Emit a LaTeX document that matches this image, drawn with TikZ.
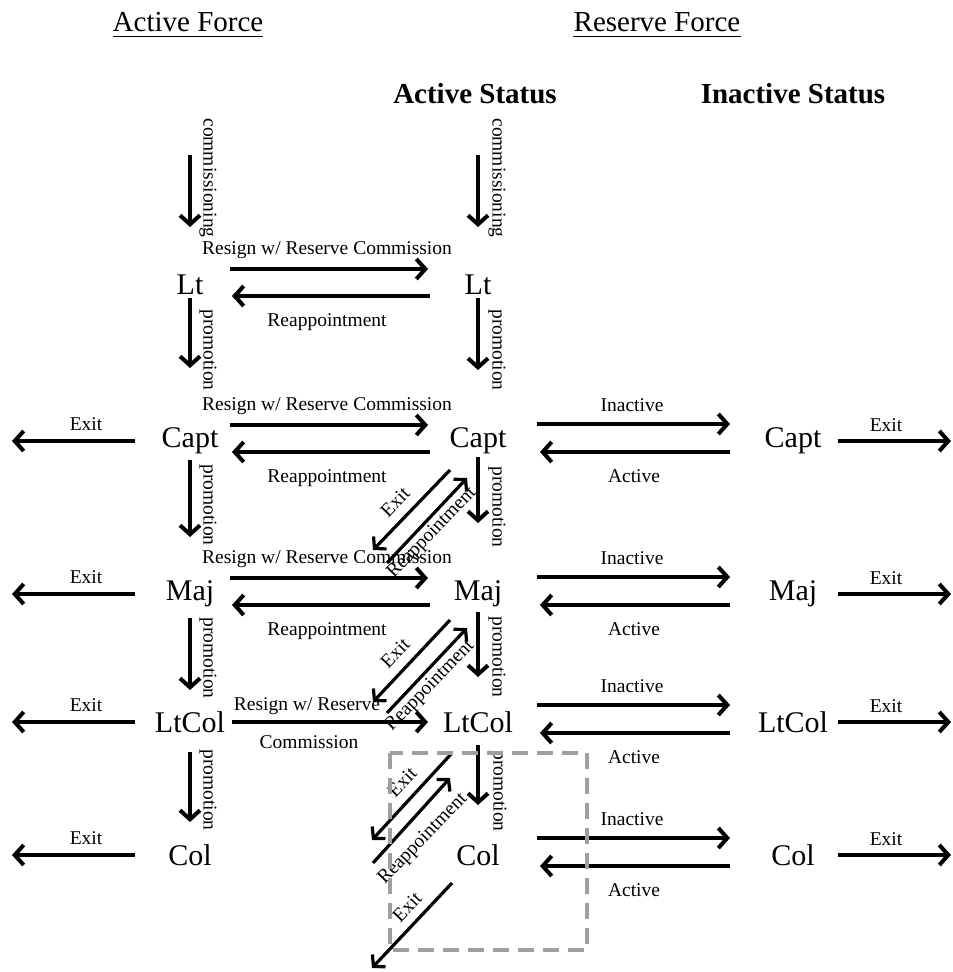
\documentclass[tikz,border=0pt]{standalone}
\usepackage{fontspec}
\setmainfont{Liberation Serif}
\usetikzlibrary{arrows.meta,calc}

\tikzset{
  arr/.style={line width=4pt,-{Straight Barb[length=9pt,width=20pt]}},
  diag/.style={line width=3.2pt,-{Straight Barb[length=8pt,width=18pt]}},
  rank/.style={font=\fontsize{30}{34}\selectfont},
  lbl/.style={font=\fontsize{19.5}{22}\selectfont,inner sep=0pt},
  title/.style={font=\fontsize{29}{33}\selectfont,inner sep=0pt},
  boxdash/.style={draw=gray!75,line width=4pt,dash pattern=on 16pt off 9pt}
}

\begin{document}
\begin{tikzpicture}[x=1pt,y=-1pt]
  \useasboundingbox (0,0) rectangle (953,972);
  % headings
  \node[title] (actforce) at (188,22) {Active Force};
  \node[title] (resforce) at (657,22) {Reserve Force};
  \draw[line width=1.4pt] ([yshift=-5pt]actforce.base west) -- ([yshift=-5pt]actforce.base east);
  \draw[line width=1.4pt] ([yshift=-5pt]resforce.base west) -- ([yshift=-5pt]resforce.base east);
  \node[title,font=\fontsize{29}{33}\selectfont\bfseries] (actstat) at (475,94) {Active Status};
  \node[title,font=\fontsize{29}{33}\selectfont\bfseries] (inactstat) at (793,94) {Inactive Status};

  % ranks
  \node[rank] (a-lt) at (190,285) {Lt};
  \node[rank] (a-capt) at (190,441) {Capt};
  \node[rank] (a-maj) at (190,594) {Maj};
  \node[rank] (a-ltcol) at (190,722) {LtCol};
  \node[rank] (a-col) at (190,855) {Col};
  \node[rank] (r-lt) at (478,285) {Lt};
  \node[rank] (r-capt) at (478,441) {Capt};
  \node[rank] (r-maj) at (478,594) {Maj};
  \node[rank] (r-ltcol) at (478,722) {LtCol};
  \node[rank] (r-col) at (478,855) {Col};
  \node[rank] (i-capt) at (793,441) {Capt};
  \node[rank] (i-maj) at (793,594) {Maj};
  \node[rank] (i-ltcol) at (793,722) {LtCol};
  \node[rank] (i-col) at (793,855) {Col};

  % commissioning
  \coordinate (a-top) at (190,155);
  \coordinate (r-top) at (478,155);
  \draw[arr] (a-top) -- ([shift={(0,-58)}]a-lt.center);
  \draw[arr] (r-top) -- ([shift={(0,-58)}]r-lt.center);
  \node[lbl,rotate=-90] (a-comm) at (208,178) {commissioning};
  \node[lbl,rotate=-90] (r-comm) at (497,178) {commissioning};

  % promotion, active force
  \draw[arr] ([shift={(0,13)}]a-lt.center) -- ([shift={(0,-73)}]a-capt.center);
  \draw[arr] ([shift={(0,19)}]a-capt.center) -- ([shift={(0,-57)}]a-maj.center);
  \draw[arr] ([shift={(0,24)}]a-maj.center) -- ([shift={(0,-32)}]a-ltcol.center);
  \draw[arr] ([shift={(0,30)}]a-ltcol.center) -- ([shift={(0,-33)}]a-col.center);
  \node[lbl,rotate=-90] (a-prom1) at (208,350) {promotion};
  \node[lbl,rotate=-90] (a-prom2) at (208,505) {promotion};
  \node[lbl,rotate=-90] (a-prom3) at (208,658) {promotion};
  \node[lbl,rotate=-90] (a-prom4) at (208,790) {promotion};

  % promotion, reserve
  \draw[arr] ([shift={(0,13)}]r-lt.center) -- ([shift={(0,-71)}]r-capt.center);
  \draw[arr] ([shift={(0,16)}]r-capt.center) -- ([shift={(0,-71)}]r-maj.center);
  \draw[arr] ([shift={(0,18)}]r-maj.center) -- ([shift={(0,-45)}]r-ltcol.center);
  \draw[arr] ([shift={(0,23)}]r-ltcol.center) -- ([shift={(0,-50)}]r-col.center);
  \node[lbl,rotate=-90] (r-prom1) at (497,350) {promotion};
  \node[lbl,rotate=-90] (r-prom2) at (497,507) {promotion};
  \node[lbl,rotate=-90] (r-prom3) at (497,657) {promotion};
  \node[lbl,rotate=-90] (r-prom4) at (498,791) {promotion};

  % resign / reappointment
  \foreach \r in {lt,capt,maj}
    {
      \draw[arr] ([shift={(40,-16)}]a-\r.center) -- ([shift={(-50,-16)}]r-\r.center);
      \draw[arr] ([shift={(-48,11)}]r-\r.center) -- ([shift={(42,11)}]a-\r.center);
      \node[lbl] (resign-\r) at ($(a-\r)!0.5!(r-\r)+(-7,-35)$) {Resign w/ Reserve Commission};
      \node[lbl] (reapp-\r) at ($(a-\r)!0.5!(r-\r)+(-7,37)$) {Reappointment};
    }
  \draw[arr] ([shift={(42,0)}]a-ltcol.center) -- ([shift={(-50,0)}]r-ltcol.center);
  \node[lbl] (resign-ltcol) at (307,706) {Resign w/ Reserve};
  \node[lbl] (comm-ltcol) at (309,742) {Commission};

  % inactive / active and exits
  \foreach \r in {capt,maj,ltcol,col}
    {
      \draw[arr] ([shift={(59,-17)}]r-\r.center) -- ([shift={(-63,-17)}]i-\r.center);
      \draw[arr] ([shift={(-63,11)}]i-\r.center) -- ([shift={(62,11)}]r-\r.center);
      \node[lbl] (inact-\r) at ($(r-\r)+(154,-36)$) {Inactive};
      \node[lbl] (act-\r) at ($(r-\r)+(156,35)$) {Active};
      \coordinate (a-out-\r) at ($(a-\r)+(-178,0)$);
      \coordinate (i-out-\r) at ($(i-\r)+(158,0)$);
      \draw[arr] ([shift={(-55,0)}]a-\r.center) -- (a-out-\r);
      \draw[arr] ([shift={(45,0)}]i-\r.center) -- (i-out-\r);
      \node[lbl] (a-exit-\r) at ($(a-\r)+(-104,-17)$) {Exit};
      \node[lbl] (i-exit-\r) at ($(i-\r)+(93,-16)$) {Exit};
    }

  % diagonal exits / reappointments
  \coordinate (x-capt) at (373,550);
  \coordinate (b-capt) at (387,563);
  \draw[diag] ([shift={(-28,29)}]r-capt.center) -- (x-capt);
  \draw[diag] (b-capt) -- ([shift={(-11,37)}]r-capt.center);
  \node[lbl,rotate=46] (dx-capt) at (395,502) {Exit};
  \node[lbl,rotate=46] (dr-capt) at (432,533) {Reappointment};

  \coordinate (x-maj) at (373,702);
  \coordinate (b-maj) at (387,713);
  \draw[diag] ([shift={(-28,26)}]r-maj.center) -- (x-maj);
  \draw[diag] (b-maj) -- ([shift={(-11,34)}]r-maj.center);
  \node[lbl,rotate=46] (dx-maj) at (395,653) {Exit};
  \node[lbl,rotate=46] (dr-maj) at (430,686) {Reappointment};

  \coordinate (x-ltcol) at (372,840);
  \coordinate (b-ltcol) at (373,863);
  \draw[diag] ([shift={(-26,31)}]r-ltcol.center) -- (x-ltcol);
  \draw[diag] (b-ltcol) -- ([shift={(-28,56)}]r-ltcol.center);
  \node[lbl,rotate=46] (dx-ltcol) at (402,782) {Exit};
  \node[lbl,rotate=46] (dr-ltcol) at (423,839) {Reappointment};

  \coordinate (x-col) at (372,968);
  \draw[diag] ([shift={(-26,28)}]r-col.center) -- (x-col);
  \node[lbl,rotate=46] (dx-col) at (407,907) {Exit};

  % dashed box round Col
  \draw[boxdash] (390,753) rectangle (587,950);
\end{tikzpicture}
\end{document}
